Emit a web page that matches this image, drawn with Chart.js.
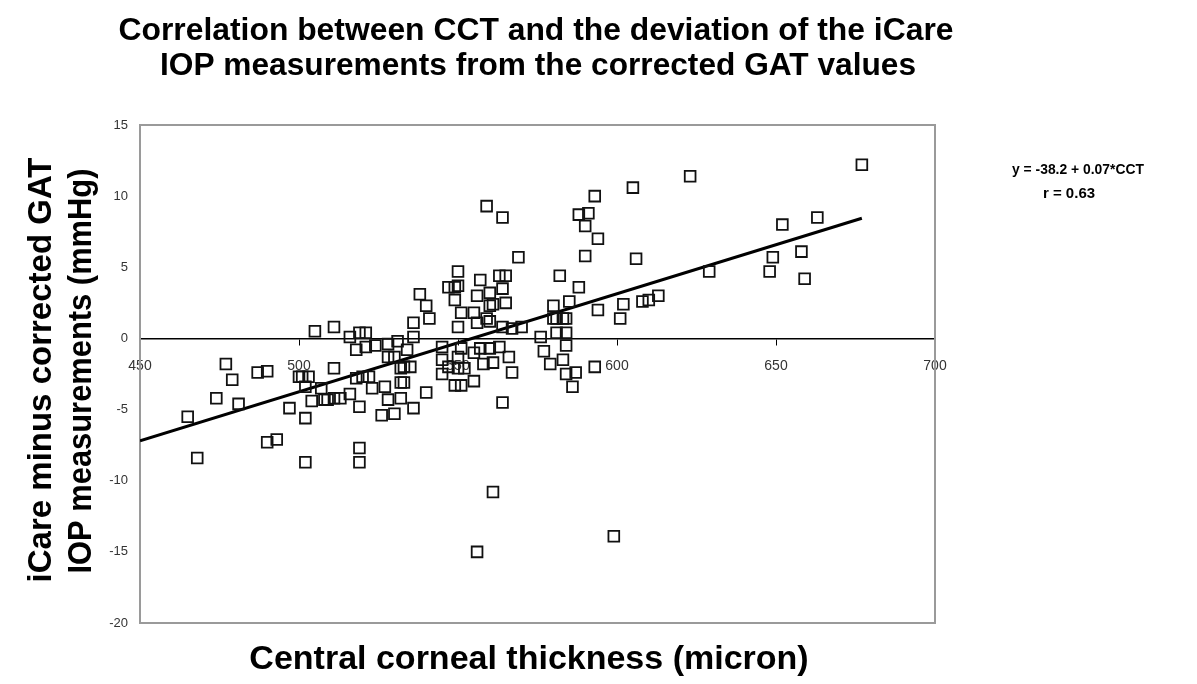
<!DOCTYPE html>
<html>
<head>
<meta charset="utf-8">
<script src="https://cdn.jsdelivr.net/npm/chart.js@4.4.1/dist/chart.umd.min.js"></script>
<style>
    body { margin: 0; background: #fff; }
    #wrap { width: 1197px; height: 684px; }
</style>
</head>
<body>
<div id="wrap"><canvas id="scatter" width="1197" height="684"></canvas></div>
<script>
// central corneal thickness (micron) of each eye
var cct = [
    465, 468, 474, 477, 479, 481, 487, 490, 490, 493,
    497, 500, 501, 503, 502, 502, 502, 505, 504, 507,
    508, 509, 511, 513, 516, 511, 511, 516, 519, 521,
    518, 521, 524, 528, 531, 528, 530, 518, 520, 522,
    523, 527, 528, 519, 519, 519, 526, 530, 532, 532,
    533, 532, 536, 540, 533, 535, 534, 536, 536, 538,
    540, 541, 545, 545, 545, 547, 550, 552, 549, 551,
    555, 558, 561, 564, 551, 555, 557, 560, 563, 550,
    551, 555, 556, 559, 560, 560, 561, 556, 560, 564,
    565, 549, 547, 549, 550, 550, 557, 563, 565, 569,
    559, 564, 561, 556, 599, 564, 567, 570, 566, 567,
    550, 576, 577, 579, 583, 584, 584, 587, 586, 581,
    584, 580, 581, 583, 584, 580, 585, 582, 588, 594,
    590, 593, 588, 591, 590, 593, 594, 601, 602, 605,
    606, 608, 610, 613, 623, 629, 648, 649, 652, 658,
    659, 663, 677
];
// iCare minus corrected GAT (mmHg)
var iopDiff = [
    -5.5, -8.4, -4.2, -1.8, -2.9, -4.6, -2.4, -2.3, -7.3, -7.1,
    -4.9, -2.7, -2.7, -2.7, -3.4, -5.6, -8.7, 0.5, -4.4, -3.5,
    -4.3, -4.3, -4.2, -4.2, -3.9, 0.8, -2.1, 0.1, 0.4, 0.4,
    -0.8, -0.6, -0.5, -0.4, -0.2, -1.3, -1.3, -2.8, -2.7, -2.7,
    -3.5, -3.4, -4.3, -4.8, -7.7, -8.7, -5.4, -5.3, -2.1, -3.1,
    -3.1, -4.2, -4.9, -3.8, -2.0, -2.0, -0.8, 0.1, 1.1, 3.1,
    2.3, 1.4, -0.6, -1.5, -2.5, -2.0, -2.1, -2.1, -3.3, -3.3,
    -3.0, -1.8, -1.7, -4.5, -0.7, -1.0, -0.7, -0.7, -0.6, 0.8,
    1.8, 1.8, 1.1, 1.4, 1.2, 2.3, 2.4, 3.0, 3.2, 3.5,
    2.5, 2.7, 3.6, 3.6, 3.7, 4.7, 4.1, 4.4, 4.4, 5.7,
    9.3, 8.5, -10.8, -15.0, -13.9, 0.8, 0.7, 0.8, -1.3, -2.4,
    -1.3, 0.1, -0.9, -1.8, -1.5, -0.5, -2.5, -2.4, -3.4, 0.4,
    0.4, 1.4, 1.4, 1.4, 1.4, 2.3, 2.6, 4.4, 3.6, 2.0,
    5.8, -2.0, 8.7, 8.8, 7.9, 10.0, 7.0, 1.4, 2.4, 10.6,
    5.6, 2.6, 2.7, 3.0, 11.4, 4.7, 4.7, 5.7, 8.0, 6.1,
    4.2, 8.5, 12.2
];
// regression line end points, y = -38.2 + 0.07*CCT
var fitX = [450, 677];
var fitY = [-7.2, 8.45];

var xTicks = [450, 500, 550, 600, 650, 700];
var titleLines = [
    "Correlation between CCT and the deviation of the iCare",
    "IOP measurements from the corrected GAT values"
];
var yTitleLines = ["iCare minus corrected GAT", "IOP measurements (mmHg)"];
var xTitle = "Central corneal thickness (micron)";
var equationLines = ["y = -38.2 + 0.07*CCT", "r = 0.63"];

var points = cct.map(function (x, i) {
    return { x: x, y: iopDiff[i] };
});
var fitLine = fitX.map(function (x, i) {
    return { x: x, y: fitY[i] };
});

var boldFont = "'Liberation Sans', Arial, sans-serif";

// frame around plot and all the text labels
var decorations = {
    id: "decorations",
    beforeDatasetsDraw: function (chart) {
        var ctx = chart.ctx;
        var a = chart.chartArea;
        ctx.save();
        ctx.strokeStyle = "#9a9a9a";
        ctx.lineWidth = 2;
        ctx.strokeRect(a.left, a.top, a.right - a.left, a.bottom - a.top);
        ctx.restore();
    },
    afterDraw: function (chart) {
        var ctx = chart.ctx;
        ctx.save();
        ctx.fillStyle = "#000";
        ctx.textAlign = "center";
        ctx.textBaseline = "middle";

        ctx.font = "bold 32px " + boldFont;
        ctx.fillText(titleLines[0], 536, 31, 835);
        ctx.fillText(titleLines[1], 538, 66, 756);

        ctx.font = "bold 34px " + boldFont;
        ctx.fillText(xTitle, 529, 660, 570);

        ctx.font = "bold 33px " + boldFont;
        ctx.save();
        ctx.translate(42, 370);
        ctx.rotate(-Math.PI / 2);
        ctx.fillText(yTitleLines[0], 0, 0, 442);
        ctx.restore();
        ctx.save();
        ctx.translate(82, 371);
        ctx.rotate(-Math.PI / 2);
        ctx.fillText(yTitleLines[1], 0, 0, 405);
        ctx.restore();

        ctx.font = "bold 15px " + boldFont;
        ctx.fillText(equationLines[0], 1078, 170, 132);
        ctx.fillText(equationLines[1], 1069, 194);
        ctx.restore();
    }
};

new Chart(document.getElementById("scatter").getContext("2d"), {
    type: "scatter",
    data: {
        datasets: [
            {
                data: points,
                pointStyle: "rect",
                pointRadius: 7.6,
                pointHoverRadius: 7.6,
                pointBorderWidth: 1.8,
                borderColor: "#111",
                backgroundColor: "rgba(0,0,0,0)",
            },
            {
                data: fitLine,
                showLine: true,
                pointRadius: 0,
                borderColor: "#000",
                borderWidth: 3,
            },
        ],
    },
    options: {
        responsive: false,
        animation: false,
        layout: {
            padding: { left: 0, top: 125, right: 262, bottom: 61 },
        },
        plugins: {
            legend: false, // Hide legend
            tooltip: { enabled: false },
        },
        scales: {
            x: {
                type: "linear",
                min: 450,
                max: 700,
                position: { y: 0 },
                afterBuildTicks: function (scale) {
                    scale.ticks = xTicks.map(function (v) {
                        return { value: v };
                    });
                },
                grid: {
                    drawOnChartArea: false,
                    drawTicks: true,
                    tickLength: 6,
                    color: "#000",
                },
                border: { display: true, color: "#000", width: 1.5 },
                ticks: {
                    padding: 13,
                    maxRotation: 0,
                    color: "#333",
                    font: { family: boldFont, size: 14 },
                },
            },
            y: {
                min: -20,
                max: 15,
                afterFit: function (scale) {
                    scale.width = 140;
                },
                grid: { display: false },
                border: { display: false },
                ticks: {
                    stepSize: 5,
                    padding: 4,
                    color: "#333",
                    font: { family: boldFont, size: 13 },
                },
            },
        },
    },
    plugins: [decorations],
});
</script>
</body>
</html>
